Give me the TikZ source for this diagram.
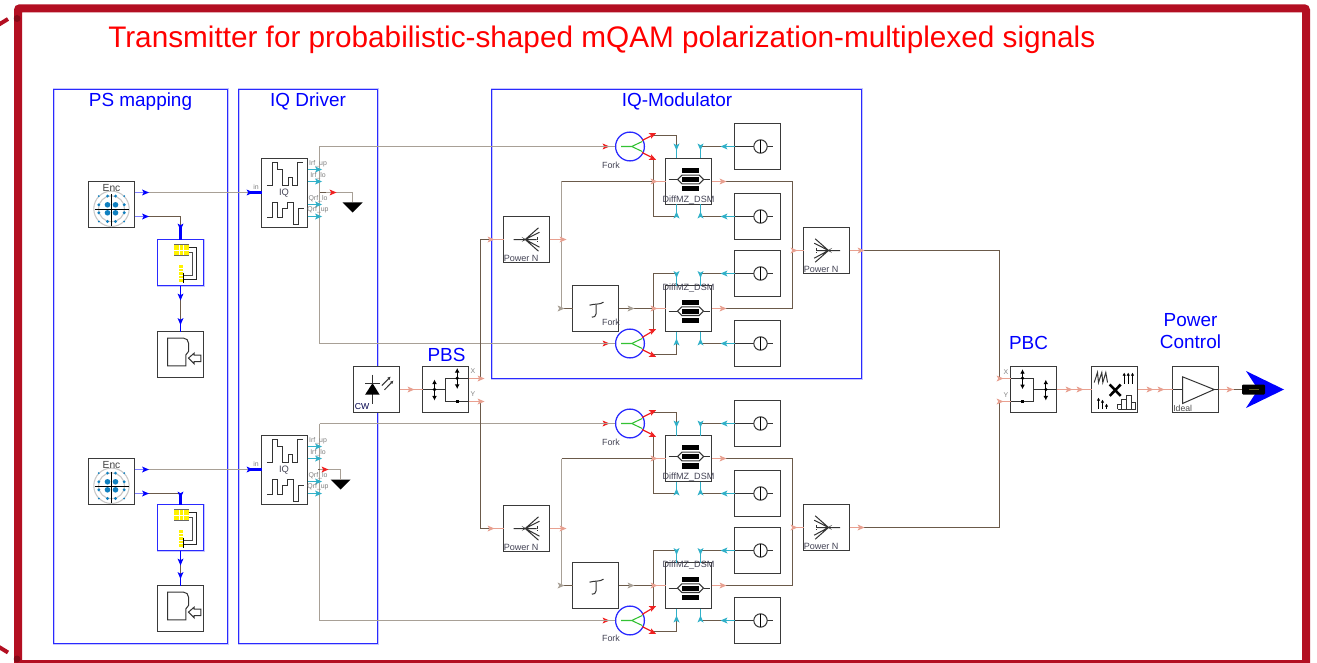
\documentclass[tikz,border=0pt]{standalone}
\usepackage{fontspec}
\setmainfont{Liberation Sans}
\usetikzlibrary{arrows.meta}
\definecolor{framered}{HTML}{B30F22}
\definecolor{boxblue}{HTML}{2A2AFF}
\definecolor{pureblue}{HTML}{0000FF}
\definecolor{paleblue}{HTML}{8080FF}
\definecolor{wiredark}{HTML}{6B5A4A}
\definecolor{wirelight}{HTML}{A8A096}
\definecolor{wirepink}{HTML}{E8A090}
\definecolor{wirecyan}{HTML}{30B0C8}
\definecolor{wirered}{HTML}{F02020}
\definecolor{blockc}{HTML}{3A3A3A}
\definecolor{lbl}{HTML}{444455}
\definecolor{dotblue}{HTML}{1080C0}
\definecolor{portgrey}{HTML}{808080}
\newcommand\ssz[1]{\fontsize{#1}{#1}\selectfont}
\tikzset{
  halo/.style={preaction={draw=paleblue!45,line width=1.5pt}},
  blk/.style={draw=blockc,fill=white,line width=.9pt,inner sep=0,outer sep=0,anchor=north west,minimum width=34.5pt,minimum height=34.5pt},
  wdark/.style={draw=wiredark,line width=.85pt},
  wlight/.style={draw=wirelight,line width=1.15pt},
  wpink/.style={draw=wirepink,line width=.85pt},
  wcyan/.style={draw=wirecyan,line width=.9pt},
  wred/.style={draw=wirered,line width=.9pt},
  wblue/.style={draw=pureblue,line width=.9pt},
  wpale/.style={draw=paleblue,line width=1.2pt},
  region/.style={halo,draw=boxblue,line width=.75pt,fill=none,inner sep=0,outer sep=0,anchor=north west},
  gl/.style={draw=black!80,line width=.75pt},
  dbl/.style={draw=black,line width=.75pt,{Latex[length=3.4pt,width=3.6pt]}-{Latex[length=3.4pt,width=3.6pt]}},
  heading/.style={text=pureblue,inner sep=0,align=center,anchor=base,font=\fontsize{14.2}{16.5}\selectfont},
  small/.style={text=lbl,inner sep=0,font=\ssz{6.8}},
  port/.style={text=portgrey,inner sep=0,font=\ssz{5.2}},
}
\newcommand\mkarr[4]{\fill[#4,shift={(#1,#2)},rotate=#3] (-3.5,-3)--(3.5,0)--(-3.5,3)--(-1.8,0)--cycle;}
\newcommand\encblock[3]{%
  \node[blk] (#1) at (#2,#3) {};
  \begin{scope}[shift={(#2,#3)}]
    \draw[black!22,line width=.8pt] (23,27.3) circle[radius=17.7];
    \draw[black!22,line width=.8pt] (23,27.3) circle[radius=13];
    \foreach \u in {-4,4} \foreach \v in {-4,4} \fill[dotblue] (23+\u,27.3+\v) circle[radius=2.8];
    \foreach \u in {-12.7,12.7} \foreach \v in {-4,4} {\fill[dotblue] (23+\u,27.3+\v) circle[radius=1.6];\fill[dotblue] (23+\v,27.3+\u) circle[radius=1.6];}
    \foreach \u in {-12.7,12.7} \foreach \v in {-12.7,12.7} \fill[dotblue] (23+\u,27.3+\v) circle[radius=1];
    \draw[black,line width=.7pt] (23,13)--(23,44) (6,28.3)--(40,28.3);
  \end{scope}
  \node[small,text=black!75,font=\ssz{7.7}] (#1-lbl) at (#2+23,#3+6.5) {Enc};
}
\newcommand\mapblock[3]{%
  \node[blk,halo,draw=boxblue] (#1) at (#2,#3) {};
  \begin{scope}[shift={(#2,#3)}]
    \fill[yellow] (16.5,5) rectangle (31,16.3);
    \draw[white,line width=.3pt] (21.3,5)--(21.3,16.3) (26.1,5)--(26.1,16.3) (16.5,10.6)--(31,10.6);
    \draw[black!60,line width=.8pt] (16.5,5)--(31,5) (16.5,16.3)--(31,16.3);
    \fill[yellow] (21.8,25) rectangle (25.2,42.7);
    \draw[white,line width=.3pt] (21.8,28.5)--(25.2,28.5) (21.8,32)--(25.2,32) (21.8,35.5)--(25.2,35.5) (21.8,39)--(25.2,39);
    \draw[black!85,line width=.7pt] (31,8.3)--(39.2,8.3)--(39.2,40)--(26,40);
    \draw[black!70,line width=.7pt] (31,13.3)--(34.8,13.3)--(34.8,36)--(26,36);
    \draw[black,line width=.7pt] (26,33)--(26,43);
  \end{scope}
}
\newcommand\diskblock[3]{%
  \node[blk] (#1) at (#2,#3) {};
  \begin{scope}[shift={(#2,#3)}]
    \draw[gl] (10,6.6)--(26,6.6) .. controls (29,6.6) and (31,9) .. (31,11.6)--(31,20)--(28.4,23.3)--(28.4,34.3)--(10,34.3)--cycle;
    \draw[gl] (31,26.6)--(36.7,21.6)--(36.7,23.6)--(43.4,23.6)--(43.4,30)--(36.7,30)--(36.7,32.3)--cycle;
  \end{scope}
}
\newcommand\iqblock[3]{%
  \node[blk,minimum height=51.75pt] (#1) at (#2,#3) {};
  \begin{scope}[shift={(#2,#3)}]
    \draw[gl,line width=.85pt] (5.3,27)--(10.7,27)--(10.7,4.3)--(15.7,4.3)--(15.7,11.3)--(21.3,11.3)--(21.3,27)--(26.7,27)--(26.7,19.3)--(31.3,19.3)--(31.3,27)--(36.3,27)--(36.3,4.3)--(41.7,4.3);
    \draw[gl,line width=.85pt] (5.7,58.7)--(10.7,58.7)--(10.7,43.7)--(15.7,43.7)--(15.7,58.7)--(20.7,58.7)--(20.7,50.3)--(25.7,50.3)--(25.7,43.7)--(31.7,43.7)--(31.7,66)--(36.7,66)--(36.7,50.3)--(42.3,50.3);
  \end{scope}
  \node[small,font=\ssz{7}] (#1-lbl) at (#2+22.5,#3+35) {IQ};
}
\newcommand\forknode[3]{%
  \node[draw=boxblue,fill=white,circle,line width=.95pt,inner sep=0,minimum size=21.6pt] (#1) at (#2,#3) {};
  \begin{scope}[shift={(#2,#3)}]
    \draw[green!70!black!80,line width=.8pt] (-9,0)--(1.7,0)--(12.3,-5) (1.7,0)--(12.3,5);
  \end{scope}
}
\newcommand\pmblock[2]{%
  \node[blk] (#1) at (734.5,#2) {};
  \begin{scope}[shift={(734.5,#2)}]
    \draw[gl] (0,23)--(38.5,23);
    \draw[gl,fill=white] (26,23) circle[radius=6.7];
    \draw[black,line width=1.1pt] (26,16.3)--(26,29.7);
  \end{scope}
}
\newcommand\dmblock[4]{%
  \node[blk] (#1) at (665.5,#2) {};
  \begin{scope}[shift={(665.5,#2)}]
    \fill[black] (16.3,#3-11.7) rectangle (33.7,#3-6.7);
    \fill[black] (16.3,#3+6.7) rectangle (33.7,#3+12);
    \draw[gl] (3,#3)--(12,#3) (38,#3)--(44,#3);
    \draw[gl,line width=.8pt,fill=white] (12,#3)--(16.3,#3-4.3)--(33.7,#3-4.3)--(38,#3)--(33.7,#3+4.3)--(16.3,#3+4.3)--cycle;
    \fill[black] (16.3,#3-2.7) rectangle (33.7,#3+2.7);
  \end{scope}
  \node[small] (#1-lbl) at (688.5,#2+#4) {DiffMZ\_DSM};
}
\newcommand\splitblock[3]{%
  \node[blk] (#1) at (#2,#3) {};
  \begin{scope}[shift={(#2,#3)}]
    \draw[gl] (10,23)--(21.7,23) (35,11.3)--(21.7,23)--(36,15.7) (36,30.7)--(21.7,23)--(35,34.7) (21.7,23)--(33,23);
    \draw[gl,dash pattern=on 2pt off 1pt] (34,20.7)--(34,25.7);
  \end{scope}
  \node[small,anchor=west] (#1-lbl) at (#2,#3+41.5) {Power N};
}
\newcommand\combblock[3]{%
  \node[blk] (#1) at (#2,#3) {};
  \begin{scope}[shift={(#2,#3)}]
    \draw[gl] (36.7,23)--(25,23) (11.7,11.3)--(25,23)--(10.7,15.7) (10.7,30.7)--(25,23)--(11.7,34.7) (25,23)--(13.7,23);
    \draw[gl,dash pattern=on 2pt off 1pt] (12.7,20.7)--(12.7,25.7);
  \end{scope}
  \node[small,anchor=west] (#1-lbl) at (#2,#3+41.5) {Power N};
}
\newcommand\delayblock[2]{%
  \node[blk] (#1) at (572.5,#2) {};
  \begin{scope}[shift={(572.5,#2)}]
    \draw[gl] (17,19.7) .. controls (22,18) and (27,19.5) .. (31,16.7);
    \draw[gl] (23.7,19) -- (23.7,28) .. controls (23.7,31) and (21,32) .. (19.3,31.7);
  \end{scope}
}
\newcommand\modgroup[3]{%
\begin{scope}[shift={(0,#2)}]
  \forknode{#1fu}{630}{146.5}
  \forknode{#1fl}{630}{343.5}
  \pmblock{#1pa}{123.5}
  \pmblock{#1pb}{193.5}
  \pmblock{#1pc}{250.5}
  \pmblock{#1pd}{320.5}
  \dmblock{#1du}{158.5}{21}{42}
  \dmblock{#1dl}{285.5}{25.7}{3}
  \delayblock{#1del}{285.5}
  \combblock{#1co}{803.5}{227.5}
  \coordinate (#1fuo1) at (652,135.5);
  \coordinate (#1fuo2) at (652,157.5);
  \coordinate (#1flo1) at (652,331.5);
  \coordinate (#1flo2) at (652,354.5);
  \coordinate (#1v1) at (561.5,181.5);
  \coordinate (#1v2) at (561.5,308.5);
  \coordinate (#1o) at (792.5,250.5);
  \coordinate (#1du1) at (676.5,158.5);
  \coordinate (#1du2) at (700.5,158.5);
  \coordinate (#1du3) at (676.5,204.5);
  \coordinate (#1du4) at (700.5,204.5);
  \coordinate (#1dl1) at (676.5,285.5);
  \coordinate (#1dl2) at (700.5,285.5);
  \coordinate (#1dl3) at (676.5,331.5);
  \coordinate (#1dl4) at (700.5,331.5);
  % fork outputs
  \draw[wred] (#1fu)+(12,-6)--(#1fuo1);
  \draw[wred] (#1fu)+(12,6)--(#1fuo2);
  \draw[wred] (#1fl)+(12,-6)--(#1flo1);
  \draw[wred] (#1fl)+(12,6)--(#1flo2);
  \draw[wdark] (#1fuo1) -- (#1fuo1 -| #1du1) -- ++(0,11);
  \draw[wcyan] (#1du1)+(0,-12) -- (#1du1);
  \draw[wdark] (#1fuo2) -- (653.5,157.5) -- (653.5,216.5) -- (676.5,216.5);
  \draw[wcyan] (#1du3) -- ++(0,12);
  \draw[wdark] (#1flo1) -- (653.5,331.5) -- (653.5,273.5) -- (676.5,273.5);
  \draw[wcyan] (#1dl1) -- ++(0,-12);
  \draw[wdark] (#1flo2) -- (676.5,354.5) -- (676.5,343.5);
  \draw[wcyan] (#1dl3) -- ++(0,12);
  % phase shifter links
  \draw[wdark] (#1pa.west) -- (700.5,146.5);
  \draw[wcyan] (#1du2) -- ++(0,-12);
  \draw[wdark] (#1pb.west) -- (700.5,216.5);
  \draw[wcyan] (#1du4) -- ++(0,12);
  \draw[wdark] (#1pc.west) -- (700.5,273.5);
  \draw[wcyan] (#1dl2) -- ++(0,-12);
  \draw[wdark] (#1pd.west) -- (700.5,343.5);
  \draw[wcyan] (#1dl4) -- ++(0,12);
  \draw[wcyan] (#1pa.west) -- ++(-9,0);
  \draw[wcyan] (#1pb.west) -- ++(-9,0);
  \draw[wcyan] (#1pc.west) -- ++(-9,0);
  \draw[wcyan] (#1pd.west) -- ++(-9,0);
  % signal path
  \draw[wlight,line width=.95pt] (#1v1) -- (#1v2);
  \draw[wdark] (#1v1) -- (#1du.west |- #1v1);
  \draw[wpink] (652,181.5) -- (665.5,181.5);
  \draw[wdark] (#1v2) -- (#1del.west |- #1v2);
  \draw[wdark] (#1del.east |- #1v2) -- (#1dl.west |- #1v2);
  \draw[wpink] (652,308.5) -- (665.5,308.5);
  \draw[wdark] (711.5,181.5) -- (792.5,181.5) -- (792.5,308.5) -- (711.5,308.5);
  \draw[wpink] (711.5,181.5) -- (724,181.5);
  \draw[wpink] (711.5,308.5) -- (724,308.5);
  \draw[wpink] (#1o) -- (#1co.west |- #1o);
  \mkarr{606}{146.5}{0}{wirered}
  \mkarr{606}{343.5}{0}{wirered}
  \mkarr{653}{134.5}{25}{wirered}
  \mkarr{653}{158.5}{-25}{wirered}
  \mkarr{653}{330.5}{25}{wirered}
  \mkarr{653}{355.5}{-25}{wirered}
  \mkarr{676.5}{147}{-90}{wirecyan}
  \mkarr{700.5}{147}{-90}{wirecyan}
  \mkarr{676.5}{215}{90}{wirecyan}
  \mkarr{700.5}{215}{90}{wirecyan}
  \mkarr{676.5}{274.5}{-90}{wirecyan}
  \mkarr{700.5}{274.5}{-90}{wirecyan}
  \mkarr{676.5}{342}{90}{wirecyan}
  \mkarr{700.5}{342}{90}{wirecyan}
  \mkarr{724}{146.5}{180}{wirecyan}
  \mkarr{724}{216.5}{180}{wirecyan}
  \mkarr{724}{273.5}{180}{wirecyan}
  \mkarr{724}{343.5}{180}{wirecyan}
  \mkarr{654}{181.5}{0}{wirepink}
  \mkarr{654}{308.5}{0}{wirepink}
  \mkarr{723}{181.5}{0}{wirepink}
  \mkarr{723}{308.5}{0}{wirepink}
  \mkarr{631}{308.5}{0}{wirelight}
  \mkarr{561}{308.5}{0}{wirelight}
  \mkarr{794}{250.5}{0}{wirepink}
  \node[small,font=\ssz{6.7}] (#1fu-lbl) at (611,165.5) {Fork};
  \node[small,font=\ssz{6.7}] (#1fl-lbl) at (611,#3) {Fork};
\end{scope}}
\newcommand\driver[4]{%
\begin{scope}[shift={(0,#2)}]
  \encblock{#1enc}{88.5}{181.5}
  \iqblock{#1iq}{261.5}{158.5}
  \coordinate (#1eo1) at (145,192.5);
  \coordinate (#1in) at (250,192.5);
  \coordinate (#1J) at (319.5,192.5);
  \coordinate (#1gnd) at (#3,202.5);
  \fill[black] (#3-10,202.5)--(#3+10,202.5)--(#3,212.5)--cycle;
  \draw[wpale] (#1enc.east |- #1eo1) -- (#1eo1);
  \draw[wlight] (#1eo1) -- (#1in);
  \draw[pureblue,line width=2pt] (#1in) -- (#1iq.west |- #1in);
  \draw[wlight] (#1J |- #1fu.west) -- (#1J |- #1fl.west);
  \draw[wlight] (#1J |- #1fu.west) -- (#1fu.west);
  \draw[wlight] (#1J |- #1fl.west) -- (#1fl.west);
  \draw[wlight] (#1J) -| (#1gnd);
  \draw[wdark] (#1J) -- ++(#4-8,0);
  \foreach \yy in {169.5,181.5,204.5,216.5} \draw[wcyan] (307.5,\yy)--(318,\yy);
  \foreach \yy in {169.5,181.5,204.5,216.5} \mkarr{318.5}{\yy}{0}{wirecyan};
  \mkarr{145.5}{192.5}{0}{pureblue}
  \mkarr{250}{192.5}{0}{pureblue}
  \mkarr{319+#4}{192.5}{0}{wirered}
  \node[port] (#1l1) at (318,164) {Irf\_up};
  \node[port] (#1l2) at (318,175.5) {Irf\_lo};
  \node[port] (#1l3) at (318,198.5) {Qrf\_lo};
  \node[port] (#1l4) at (318,210) {Qrf\_up};
  \node[port] (#1l5) at (256,187) {in};
\end{scope}}
\newcommand\psmap[6]{% prefix, map top, disk top, enc port y, arrow y above map, arrow y below map
  \mapblock{#1map}{157.5}{#2}
  \diskblock{#1disk}{157.5}{#3}
  \coordinate (#1eo2) at (145,#4);
  \coordinate (#1s) at (180.5,#5);
  \coordinate (#1b) at (180.5,#6);
  \path (#1disk.north) ++(0,-10) coordinate (#1t);
  \draw[wpale] (#1enc.east |- #1eo2) -- (#1eo2);
  \draw[wdark] (#1eo2) -| (#1s);
  \draw[pureblue,line width=2.2pt] (#1s) -- (#1map.north);
  \draw[wblue] (#1map.south) -- (#1b);
  \draw[wdark] (#1b) -- (#1t);
  \draw[wblue] (#1disk.north) -- (#1t);
  \mkarr{145.5}{#4}{0}{pureblue}
  \mkarr{180.5}{#5}{-90}{pureblue}
  \mkarr{180.5}{#6}{-90}{pureblue}
  \mkarr{180.5}{#3-10}{-90}{pureblue}
}
\begin{document}
\begin{tikzpicture}[x=0.75pt,y=-0.75pt]
\useasboundingbox (0,0) rectangle (1317,663);
\clip (0,0) rectangle (1317,663);
\fill[white] (0,0) rectangle (1317,663);
% frame
\draw[framered,line width=6pt,rounded corners=1.5pt] (18,8.3) -- (1306,8.3) -- (1306,664) -- (18,664) -- cycle;
\draw[framered,line width=3pt] (-1,24.5) -- (8,19);
\draw[framered,line width=3pt] (-1,647) -- (8,652.5);
\fill[black,opacity=.25] (17,18.5) circle[radius=3.5];
\fill[black,opacity=.25] (17,659) circle[radius=3.5];
\node[text=red,inner sep=0,anchor=base west,font=\ssz{22.3}] (title) at (108,47.5) {Transmitter for probabilistic-shaped mQAM polarization-multiplexed signals};
% regions
\node[region,minimum width=130.5pt,minimum height=415.5pt] (rps) at (53.5,89.5) {};
\node[region,minimum width=104.25pt,minimum height=415.5pt] (rdr) at (238.5,89.5) {};
\node[region,minimum width=277.5pt,minimum height=216.75pt] (rmod) at (491.5,89.5) {};
\node[heading] (hps) at (140.5,106.7) {PS mapping};
\node[heading] (hdr) at (308,106.7) {IQ Driver};
\node[heading] (hmod) at (677,106.7) {IQ-Modulator};
\node[heading] (hpbs) at (446.5,361) {PBS};
\node[heading] (hpbc) at (1028.5,349.3) {PBC};
\node[heading,anchor=center] (hpc) at (1190.5,330.8) {Power\\Control};
% modulators
\modgroup{a}{0}{322}
\modgroup{b}{277}{361}
\driver{a}{0}{352.5}{14}
\driver{b}{277}{340.5}{6}
\psmap{a}{239.5}{331.5}{216.5}{227}{297}
\psmap{b}{504.5}{585.5}{493.5}{495}{562}
% split nodes
\splitblock{spa}{503.5}{216.5}
\splitblock{spb}{503.5}{505.5}
% CW and PBS
\node[blk] (cw) at (353.5,366.5) {};
\begin{scope}[shift={(353.5,366.5)}]
  \draw[gl] (19,8)--(19,37.3);
  \fill[black] (11.7,28)--(26,28)--(19,16.7)--cycle;
  \draw[gl] (11.7,16.7)--(26,16.7);
  \draw[gl,-{Latex[length=2.5pt,width=2.5pt]}] (28.3,19)--(37.3,10);
  \draw[gl,-{Latex[length=2.5pt,width=2.5pt]}] (31,23.3)--(40,14);
\end{scope}
\node[small,text=black!70!blue,anchor=west,font=\ssz{6.5}] (cw-lbl) at (354.5,407) {CW};
\node[blk] (pbs) at (422.5,366.5) {};
\begin{scope}[shift={(422.5,366.5)}]
  \draw[gl] (23,11.7) rectangle (46,34.7);
  \draw[gl] (0,23)--(23,23);
  \draw[dbl] (12,13)--(12,34);
  \fill[black] (12,23) circle[radius=1.8];
  \draw[dbl] (34.7,1.5)--(34.7,22.5);
  \fill[black] (34.7,11.7) circle[radius=1.8];
  \fill[black] (33,33) rectangle (36.4,36.4);
\end{scope}
\node[port] (px) at (473,371) {X};
\node[port] (py) at (473,394) {Y};
\coordinate (pbsx) at (480.5,378.5);
\coordinate (pbsy) at (480.5,401.5);
\draw[wpink] (cw.east) -- (pbs.west);
\mkarr{411}{389.5}{0}{wirepink}
\draw[wpink] (pbs.east |- pbsx) -- (pbsx);
\draw[wpink] (pbs.east |- pbsy) -- (pbsy);
\draw[wdark] (pbsx) |- (spa.west);
\draw[wdark] (pbsy) |- (spb.west);
\mkarr{481}{378.5}{0}{wirepink}
\mkarr{481}{401.5}{0}{wirepink}
\mkarr{491}{239.5}{0}{wirepink}
\mkarr{491}{528.5}{0}{wirepink}
\draw[wpink] (spa.west)+(-14,0) -- (spa.west);
\draw[wpink] (spb.west)+(-14,0) -- (spb.west);
\draw[wpink] (spa.east) -- (561.5,239.5);
\draw[wpink] (spb.east) -- (561.5,528.5);
\mkarr{563}{239.5}{0}{wirepink}
\mkarr{563}{528.5}{0}{wirepink}
% PBC chain
\node[blk] (pbc) at (1010.5,366.5) {};
\begin{scope}[shift={(1010.5,366.5)}]
  \draw[gl] (0,11.7) rectangle (23.3,34.5);
  \draw[gl] (23.3,23)--(46,23);
  \draw[dbl] (12,2.7)--(12,22.7);
  \fill[black] (12,11.7) circle[radius=1.8];
  \draw[dbl] (35.3,13.2)--(35.3,34);
  \fill[black] (35.3,23) circle[radius=1.8];
  \fill[black] (10.3,33.3) rectangle (13.7,36.7);
\end{scope}
\node[port] (qx) at (1006,372) {X};
\node[port] (qy) at (1006,395) {Y};
\coordinate (pbcx) at (999.5,378.5);
\coordinate (pbcy) at (999.5,401.5);
\coordinate (coa) at (849.5,250.5);
\coordinate (cob) at (849.5,527.5);
\draw[wdark] (coa) -| (pbcx);
\draw[wdark] (cob) -| (pbcy);
\draw[wpink] (coa) -- ++(12.5,0);
\draw[wpink] (cob) -- ++(12.5,0);
\mkarr{861}{250.5}{0}{wirepink}
\mkarr{861}{527.5}{0}{wirepink}
\draw[wpink] (pbcx) -- (pbcx -| pbc.west);
\draw[wpink] (pbcy) -- (pbcy -| pbc.west);
\mkarr{1000}{378.5}{0}{wirepink}
\mkarr{1000}{401.5}{0}{wirepink}
\node[blk] (ana) at (1091.5,366.5) {};
\begin{scope}[shift={(1091.5,366.5)}]
  \draw[gl] (2.7,16)--(6,6)--(7,16)--(10.3,6)--(11.3,16)--(14.3,6)--(16,16);
  \draw[black,line width=1.9pt] (18.2,18)--(29.2,29.4) (29.2,18)--(18.2,29.4);
  \foreach \u in {32.7,36.7,41} \draw[draw=black,line width=.75pt,-{Latex[length=2.4pt,width=2.6pt]}] (\u,17)--(\u,6);
  \draw[draw=black,line width=.75pt,-{Latex[length=2.4pt,width=2.6pt]}] (7,42.7)--(7,31);
  \draw[draw=black,line width=.75pt,-{Latex[length=2.4pt,width=2.6pt]}] (11,42.7)--(11,33);
  \draw[draw=black,line width=.75pt,-{Latex[length=2.4pt,width=2.6pt]}] (15,42.7)--(15,37);
  \draw[gl] (26,42.7)--(26,37.7)--(30.3,37.7)--(30.3,42.7) (30.3,37.7)--(30.3,33.3)--(35.3,33.3)--(35.3,42.7) (35.3,33.3)--(35.3,29.3)--(39.7,29.3)--(39.7,42.7) (39.7,36)--(44.3,36)--(44.3,42.7) (26,42.7)--(44.3,42.7);
\end{scope}
\node[blk] (amp) at (1172.5,366.5) {};
\begin{scope}[shift={(1172.5,366.5)}]
  \draw[gl] (0,23)--(10,23);
  \draw[gl] (10,10.3)--(41.7,23)--(10,37)--cycle;
  \draw[gl] (41.7,23)--(46,23);
\end{scope}
\node[small,text=black!70,anchor=west,font=\ssz{6.5}] (amp-lbl) at (1173,408) {Ideal};
\coordinate (outp) at (1242,389.5);
\coordinate (outq) at (1234,389.5);
\draw[wpink] (pbc.east) -- (ana.west);
\draw[wpink] (ana.east) -- (amp.west);
\draw[wpink] (amp.east) -- (outq);
\draw[wdark] (outq) -- (outp);
\mkarr{1069}{389.5}{0}{wirepink}
\mkarr{1080}{389.5}{0}{wirepink}
\mkarr{1150}{389.5}{0}{wirepink}
\mkarr{1161}{389.5}{0}{wirepink}
\mkarr{1230}{389.5}{0}{wirepink}
\fill[pureblue] (1246,371)--(1284,389.5)--(1246,408)--(1258,389.5)--cycle;
\fill[black,rounded corners=.8pt] (1242,384.5) rectangle (1265,394.5);
\fill[olive!60!black] (1249,388.8) rectangle (1259,390.2);
\end{tikzpicture}
\end{document}
